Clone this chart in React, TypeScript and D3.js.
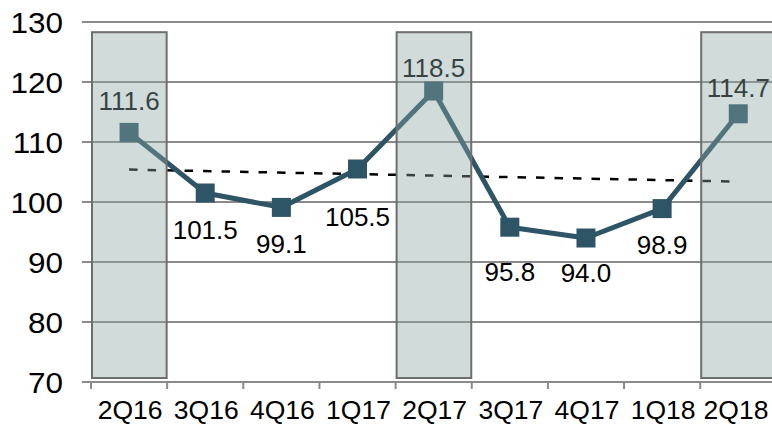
import React from "react";
import * as d3 from "d3";

// chart data
const categories = ["2Q16", "3Q16", "4Q16", "1Q17", "2Q17", "3Q17", "4Q17", "1Q18", "2Q18"];
const values = [111.6, 101.5, 99.1, 105.5, 118.5, 95.8, 94.0, 98.9, 114.7];
const yTicks = [70, 80, 90, 100, 110, 120, 130];
const shaded = ["2Q16", "2Q17", "2Q18"];
const shadeTop = 128.3;
const trend = [105.4, 103.4]; // trend line at first and last quarter
const labelDy = [-22, 46, 46, 57, -14, 54, 44, 45, -17]; // label offsets from the points

const W = 772;
const H = 424;
const plotLeft = 91;
const bandW = 76.15;
const font = "'Liberation Sans', Arial, Helvetica, sans-serif";
const lineColor = "#2e5565";

const App: React.FC = () => {
  const x = d3
    .scaleBand<string>()
    .domain(categories)
    .range([plotLeft, plotLeft + bandW * categories.length])
    .padding(0);
  const y = d3.scaleLinear().domain([70, 130]).range([382, 22]);
  const cx = (c: string) => (x(c) as number) + x.bandwidth() / 2;

  const line = d3
    .line<number>()
    .x((_d, i) => cx(categories[i]))
    .y((d) => y(d));

  const marker = 19;

  return (
    <div style={{ position: "absolute", left: 0, top: 0 }}>
      <svg width={W} height={H} style={{ display: "block", background: "#fff" }}>
        {/* grid */}
        {yTicks.map((t) => (
          <g key={t}>
            <line x1={82} x2={W} y1={y(t)} y2={y(t)} stroke="#8a8a8a" strokeWidth={2} />
            <text
              x={0}
              y={0}
              dy="0.36em"
              textAnchor="end"
              fontFamily={font}
              fontSize={30}
              fill="#000"
              transform={`translate(63,${y(t)}) scale(1.05,1)`}
            >
              {t}
            </text>
          </g>
        ))}

        {/* x ticks */}
        {categories.map((c) => (
          <line
            key={"t" + c}
            x1={x(c) as number}
            x2={x(c) as number}
            y1={y(70)}
            y2={y(70) + 7}
            stroke="#8a8a8a"
            strokeWidth={2}
          />
        ))}
        {categories.map((c) => (
          <text
            key={"l" + c}
            x={Math.min(cx(c) + 1, W - 36)}
            y={419}
            textAnchor="middle"
            fontFamily={font}
            fontSize={26.5}
            fill="#000"
          >
            {c}
          </text>
        ))}

        {/* trend line */}
        <line
          x1={cx(categories[0])}
          x2={cx(categories[categories.length - 1])}
          y1={y(trend[0])}
          y2={y(trend[1])}
          stroke="#000"
          strokeWidth={2.5}
          strokeDasharray="8.5,10"
        />

        {/* series */}
        <path d={line(values) || ""} fill="none" stroke={lineColor} strokeWidth={5} strokeLinejoin="round" />
        {values.map((v, i) => (
          <rect
            key={"m" + i}
            x={cx(categories[i]) - marker / 2}
            y={y(v) - marker / 2}
            width={marker}
            height={marker}
            fill={lineColor}
          />
        ))}
        {values.map((v, i) => (
          <text
            key={"v" + i}
            x={cx(categories[i])}
            y={y(v) + labelDy[i]}
            textAnchor="middle"
            fontFamily={font}
            fontSize={26}
            fill="#000"
          >
            {v.toFixed(1)}
          </text>
        ))}

        {/* translucent highlight columns on top */}
        {shaded.map((c) => (
          <rect
            key={"s" + c}
            x={(x(c) as number) + 1}
            y={y(shadeTop)}
            width={x.bandwidth() - 1.5}
            height={y(70) - 4 - y(shadeTop)}
            fill="#89a5a2"
            fillOpacity={0.4}
            stroke="#6e6e6e"
            strokeWidth={2}
          />
        ))}
      </svg>
    </div>
  );
};

export default App;
